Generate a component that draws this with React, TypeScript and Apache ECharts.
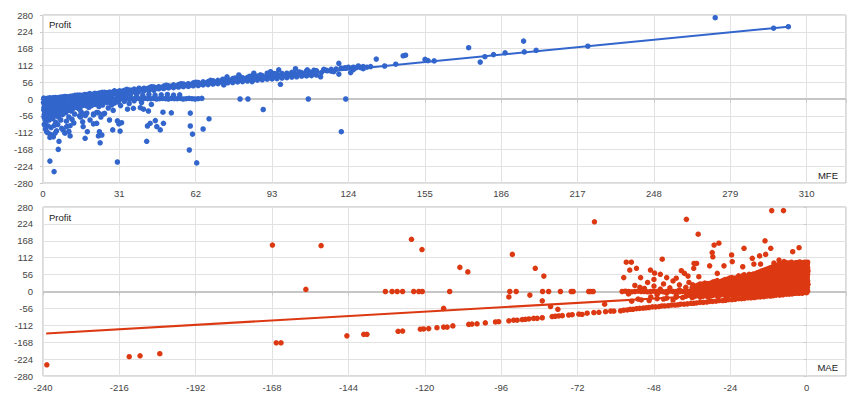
import React, { useEffect, useRef } from "react";
import * as echarts from "echarts";

// ---------- axis definitions ----------
const profitMin = -280;
const profitMax = 280;
const profitStep = 56;
const mfeMin = 0;
const mfeMax = 326;
const mfeStep = 31;
const maeMin = -240;
const maeMax = 12.35;
const maeStep = 24;

const mfeColor = "#3366cc";
const maeColor = "#dc3912";

// ---------- MFE vs Profit (top) ----------
const mfeBandA: number[][] = [
  [1, 1], [3, 2], [5, 5], [7, 6], [9, 8], [11, 9], [13, 12], [15, 13], [17, 15], [19, 16], [21, 19], [23, 20], [25, 22], [27, 23], [29, 26],
  [31, 27], [33, 29], [35, 30], [37, 33], [39, 34], [41, 36], [43, 37], [45, 40], [47, 41], [49, 43], [51, 44], [53, 47], [55, 48], [57, 50],
  [59, 51], [61, 54], [63, 55], [65, 57], [67, 58], [69, 61], [71, 62], [73, 64], [75, 65], [77, 68], [79, 69], [81, 71], [83, 72], [85, 75],
  [87, 76], [89, 78], [91, 79], [93, 82], [95, 83], [97, 85], [99, 86], [101, 89], [104, 90], [107, 94], [110, 96], [114, 99],
];
const mfeBandB: number[][] = [
  [2, 0], [4, 3], [6, 4], [8, 7], [10, 7], [12, 10], [14, 11], [16, 12], [18, 15], [20, 15], [22, 18], [24, 18], [26, 21], [28, 22], [30, 23],
  [32, 26], [34, 26], [36, 29], [38, 30], [40, 31], [42, 34], [44, 34], [46, 37], [48, 38], [50, 39], [52, 42], [54, 42], [56, 45], [58, 46],
  [60, 47], [62, 50], [64, 50], [66, 53], [68, 54], [70, 55], [72, 58], [74, 58], [76, 61], [78, 62], [80, 63], [82, 66], [84, 66], [86, 69],
  [88, 70], [90, 71], [92, 74], [94, 74], [96, 77], [98, 78], [100, 79], [103, 82], [106, 83], [109, 87], [113, 88], [117, 93],
];
const mfeBandC: number[][] = [
  [47, 34], [49, 35], [51, 37], [53, 38], [55, 40], [57, 41], [59, 42], [61, 44], [63, 45], [65, 47], [67, 48], [69, 50], [71, 51],
  [73, 53], [75, 54], [77, 55], [79, 57], [81, 58], [83, 60], [85, 61], [87, 63], [89, 64], [91, 66], [93, 67], [95, 68], [97, 70],
  [99, 71], [101, 73], [103, 74], [105, 76], [107, 77], [109, 78], [111, 80],
  [102, 86], [105, 88], [108, 90], [111, 94], [115, 96], [119, 100], [123, 103], [126, 106], [130, 108],
];
const mfeBandTop: number[][] = [
  [4, 4], [9, 8], [14, 13], [19, 18], [24, 22], [29, 27], [34, 32], [39, 36], [44, 41], [50, 46], [56, 51], [62, 56], [68, 62], [73, 66],
  [78, 70], [84, 76], [88, 79], [94, 85],
];
const mfeBandLow: number[][] = [
  [3, 2], [5, 3], [7, 5], [9, 6], [11, 7], [13, 8], [15, 10], [17, 11], [19, 12], [21, 14], [23, 15], [25, 16], [27, 18], [29, 19], [31, 20],
  [33, 21], [35, 23], [37, 24], [39, 25], [41, 27], [43, 28], [45, 29],
  [2, 1], [4, 2], [6, 3], [8, 4], [10, 5], [12, 6], [14, 7], [16, 8], [18, 9], [20, 10], [22, 11], [24, 12], [26, 13], [28, 14], [30, 15],
  [32, 16], [34, 17],
];
const mfeMidRow: number[][] = [
  [18, 13], [20.5, 15], [23, 14], [25.5, 13], [28, 15], [30.5, 14], [33, 13], [35.5, 15], [38, 14], [40.5, 12], [43, 15], [45.5, 13],
  [48, 14], [50.5, 15], [53, 13], [55.5, 14],
];
const mfeZeroRow: number[][] = [
  [0.5, 1], [1.7, 2], [2.9, 0], [4.1, 1], [5.3, 2], [6.5, 1], [7.7, 0], [8.9, 2], [10.1, 1], [11.3, 1], [12.5, 2], [13.7, 0], [14.9, 1],
  [16.1, 2], [17.3, 1], [18.5, 0], [19.7, 2], [20.9, 1], [22.1, 1], [23.3, 2], [24.5, 0], [25.7, 1], [26.9, 2], [28.1, 1], [29.3, 0],
  [30.5, 2], [31.7, 1], [32.9, 1], [34.1, 2], [35.3, 0], [36.5, 1], [37.7, 2], [38.9, 1], [40.1, 0], [41.3, 2], [42.5, 1], [43.7, 1],
  [44.9, 2], [46.1, 0], [47.3, 1], [48.5, 2], [49.7, 1], [50.9, 0], [52.1, 2], [53.3, 1], [54.5, 1], [55.7, 2], [56.9, 0], [58.1, 1],
  [59.3, 2], [60.5, 1], [61.7, 0], [63, 1], [64.5, 2], [80, 0], [83.2, 0], [107.7, 0], [122.9, 0],
];
const mfeBlob: number[][] = [
  [0.3, 3], [0.5, -5], [0.2, -12], [0.6, -20], [0.4, -28], [0.3, -36], [0.7, -44], [0.5, -52], [0.4, -60], [0.8, -68],
  [1.5, 0], [1.7, -8], [1.4, -16], [1.8, -24], [1.6, -32], [1.3, -40], [1.9, -48], [1.5, -57], [1.7, -65], [1.2, -75],
  [2.6, 4], [2.8, -4], [2.5, -12], [2.9, -20], [2.7, -28], [2.4, -37], [3.0, -45], [2.6, -53], [2.8, -62], [2.5, -70],
  [3.8, 0], [4.0, -8], [3.7, -17], [4.1, -25], [3.9, -33], [3.6, -41], [4.2, -50], [3.8, -58], [4.0, -66],
  [5.0, 2], [5.2, -6], [4.9, -14], [5.3, -22], [5.1, -30], [4.8, -38], [5.4, -47], [5.0, -56], [5.2, -78],
  [6.3, -3], [6.5, -11], [6.2, -19], [6.6, -27], [6.4, -35], [6.7, -44], [6.3, -60],
  [7.6, 0], [7.8, -8], [7.5, -16], [7.9, -24], [7.7, -32], [7.4, -41], [7.9, -52],
  [8.8, -4], [9.0, -12], [8.7, -20], [9.1, -28], [8.9, -37], [9.2, -46],
  [10.1, 0], [10.3, -8], [10.0, -16], [10.4, -24], [10.2, -33], [10.5, -60],
  [11.4, -4], [11.6, -12], [11.3, -20], [11.7, -29], [11.5, -40],
  [12.7, 0], [12.9, -8], [12.6, -17], [13.0, -25], [12.8, -50],
  [14.0, -3], [14.2, -11], [13.9, -20], [14.3, -30],
  [15.3, 1], [15.5, -7], [15.2, -15], [15.6, -24], [15.4, -42],
  [16.8, -2], [17.0, -10], [16.7, -19], [17.2, -55], [18.3, 0], [18.5, -8], [18.2, -16], [18.6, -28],
  [19.8, -3], [20.0, -12], [19.7, -22], [21.3, 0], [21.5, -8], [21.2, -18], [21.8, -45],
  [22.8, -4], [23.0, -13], [22.7, -25], [24.3, 0], [24.5, -9], [24.2, -20], [25.8, -3], [26.0, -12], [26.5, -30],
  [27.3, 0], [27.5, -8], [27.8, -20], [28.8, -4], [29.0, -14], [30.3, -2], [30.6, -10], [31.5, -22],
  [33, -8], [35, -15], [37, -6], [40, -12], [44, -18], [28.5, -38], [25, -48], [23.5, -60], [20.5, -50], [14.8, -56],
  [11.8, -68], [9.5, -74], [12.5, -80], [6.0, -85], [3.3, -95], [1.0, -100], [2.0, -90], [7.2, -70], [4.6, -88], [0.5, -85],
  [1.8, -112], [3.0, -118], [5.5, -106], [8.2, -104], [10.5, -108], [20.5, -53], [22.5, -46], [24.5, -50], [15.2, -60],
  [16.5, -50], [17.8, -47],
];
const mfeBlobFill: number[][] = [
  [0.9, -1], [1.0, -9], [0.8, -17], [1.1, -25], [0.9, -33], [1.0, -41], [0.8, -49], [1.1, -57], [0.9, -64],
  [2.1, -4], [2.2, -12], [2.0, -20], [2.3, -28], [2.1, -36], [2.2, -44], [2.0, -52], [2.3, -60], [2.1, -67],
  [3.2, -1], [3.3, -9], [3.1, -17], [3.4, -25], [3.2, -33], [3.3, -41], [3.1, -49], [3.4, -57], [3.2, -63],
  [4.4, -4], [4.5, -12], [4.3, -20], [4.6, -28], [4.4, -36], [4.5, -44], [4.3, -52],
  [5.7, -2], [5.8, -10], [5.6, -18], [5.9, -26], [5.7, -34], [5.8, -42], [5.6, -50],
  [7.0, -7], [7.1, -15], [6.9, -23], [7.2, -31], [7.0, -39], [7.1, -47],
  [8.2, -3], [8.3, -11], [8.1, -19], [8.4, -27], [8.2, -35], [8.3, -42],
  [9.6, -8], [9.7, -16], [9.5, -24], [9.8, -32], [9.6, -40],
  [10.8, -4], [10.9, -12], [10.7, -20], [11.0, -28], [10.8, -36],
  [12.0, -8], [12.1, -16], [11.9, -24], [12.2, -32],
  [13.3, -4], [13.4, -12], [13.2, -20], [13.5, -28],
  [14.6, -8], [14.7, -16], [14.5, -24], [14.8, -34],
  [16.0, -5], [16.1, -13], [15.9, -21], [17.5, -5], [17.6, -13], [17.4, -22], [19.0, -7], [19.1, -16],
  [20.6, -4], [20.7, -13], [22.0, -8], [22.1, -18], [23.6, -5], [23.7, -14], [25.1, -8], [26.6, -5], [28.0, -10],
];
const mfeOutliers: number[][] = [
  [2.8, -207], [4.5, -242], [6.2, -168], [6.5, -141], [2.8, -128], [4.2, -126], [1.5, -109], [4.9, -114], [7.6, -98], [9.6, -92],
  [11, -89], [8.9, -114], [11, -123], [16.3, -92], [16.1, -76], [17.1, -131], [18, -109], [19.1, -70], [20.5, -83], [21.8, -81],
  [22.5, -123], [23.2, -146], [23.9, -120], [22.9, -109], [27, -70], [28.3, -103], [30.2, -73], [30.8, -83], [31.3, -107], [30.2, -210],
  [31.9, -79], [34.3, -34], [36.7, -31], [39.5, -29], [40.8, -34], [42.8, -40], [42.1, -141], [42.4, -90], [43.5, -81], [45.6, -72],
  [46.2, -92], [47.6, -103], [48.9, -81], [48.7, -44], [52.1, -46], [59.8, -47], [59.8, -90], [60.7, -117], [59.4, -170], [62.4, -213],
  [65, -100], [67.4, -66], [89.4, -35], [121.1, -109],
  [120.1, 119], [121, 103], [122.5, 104], [124, 106], [125.5, 103], [127, 104], [129, 105], [131.5, 106], [124.9, 88], [120.1, 83],
  [115.4, 94], [112.7, 74], [110, 86], [107.3, 97], [106.6, 83], [102.5, 101], [101.8, 80], [99.1, 83], [95.7, 97], [96.4, 49],
  [92.4, 91], [91, 86], [88.3, 80], [85.6, 86], [84.9, 58], [80.1, 74], [79.5, 80], [74.7, 74], [73.4, 47], [69.3, 58],
  [104, 88], [108, 91], [111, 93], [114, 96], [117, 99], [118, 91], [126, 98], [128, 110], [130, 101], [133, 108],
  [135.3, 133], [138.7, 110], [143.2, 116], [146.2, 144], [147.2, 146], [155.1, 132], [156.3, 128], [158.8, 127], [172.8, 171],
  [177.5, 123], [179.4, 141], [182.9, 148], [187.6, 154], [195.1, 193], [195.4, 157], [200.2, 162], [221.2, 176], [272.9, 271],
  [296.6, 236], [302.6, 241],
];
const mfeTrend: number[][] = [[0, -1], [302.6, 241]];

// ---------- MAE vs Profit (bottom) ----------
const maeLowerEdge: number[][] = [
  [-144.5, -147], [-139.2, -142], [-138.2, -142], [-128.4, -132], [-127, -131], [-121.4, -125], [-120.4, -124], [-118.8, -123],
  [-116.2, -120], [-114.1, -118], [-113, -118], [-111.2, -114], [-106.2, -109], [-105.2, -108], [-103.6, -107], [-101, -104],
  [-97.8, -101], [-96.8, -100], [-93.6, -97], [-92.1, -95], [-91, -95], [-89.4, -93], [-88.4, -92], [-87.3, -91], [-85.8, -89],
  [-84.7, -89], [-83.1, -87], [-80, -83], [-79, -82], [-77.9, -81], [-76.8, -80], [-74.8, -78], [-73.7, -77], [-71.6, -75],
  [-70.6, -76], [-69, -72], [-66.9, -70], [-65.3, -69], [-63.2, -67], [-61.6, -65], [-60.6, -65],
  [-58.5, -64], [-57.5, -62], [-56.4, -61], [-55.5, -59], [-54.6, -59], [-53.5, -57], [-52.5, -56], [-51.4, -55], [-50.5, -54],
  [-49.6, -53], [-48.5, -51], [-47.5, -51], [-46.4, -50], [-45.5, -48], [-44.6, -48], [-43.5, -47], [-42.5, -45], [-41.4, -45],
  [-40.5, -44], [-39.6, -42], [-38.5, -42], [-37.5, -41], [-36.4, -39], [-35.5, -39], [-34.6, -38], [-33.5, -36], [-32.5, -36],
  [-31.4, -35], [-30.5, -33], [-29.6, -33], [-28.5, -32], [-27.5, -30], [-26.4, -30], [-25.5, -29], [-24.6, -27], [-23.5, -27],
  [-22.5, -26], [-21.4, -24], [-20.5, -24], [-19.6, -23], [-18.5, -21], [-17.5, -21], [-16.4, -20], [-15.5, -18], [-14.6, -18],
  [-13.5, -17], [-12.5, -15], [-11.4, -15], [-10.5, -14], [-9.6, -12], [-8.5, -12], [-7.5, -11], [-6.4, -9], [-5.5, -9],
  [-4.6, -8], [-3.5, -6], [-2.5, -6], [-1.4, -5], [-0.5, -3],
  [-55, -32], [-52, -28], [-49.5, -30], [-47, -24], [-44, -22], [-41, -19], [-38, -16],
];
const maeZeroRow: number[][] = [
  [-132.4, 0], [-130.3, 0], [-128.7, 0], [-127, 0], [-123.5, 0], [-121.9, 0], [-120.8, 0], [-112.2, 0], [-93.3, 0], [-91.3, 0],
  [-83, 0], [-81.1, 0], [-77.4, 0], [-74, 0], [-73.4, 0], [-68.5, 0], [-67.9, 0], [-67.1, 0],
  [-58, 0], [-57, 1], [-56, 0], [-55, -1], [-54, 0], [-53, 1], [-52, 0], [-51, 0], [-50, -1], [-49, 0], [-48, 1], [-47, 0],
  [-46, 0], [-45, -1], [-44, 0], [-43, 1], [-42, 0], [-41, 0], [-40, -1], [-39, 0], [-38, 1], [-37, 0],
];
const maeCluster: number[][] = [
  [-36, -20], [-36, -9], [-36.3, 2], [-36, 13], [-35.8, 22],
  [-35, -15], [-34.8, -4], [-35, 7], [-35.2, 18],
  [-33.5, -19], [-33.7, -8], [-33.5, 3], [-33.3, 14], [-33.5, 25],
  [-32, -14], [-32.2, -3], [-32, 8], [-31.8, 19], [-32, 28],
  [-31, -18], [-30.8, -7], [-31, 4], [-31.2, 15], [-31, 26],
  [-29.5, -13], [-29.7, -2], [-29.5, 9], [-29.3, 20], [-29.5, 31],
  [-28, -16], [-28.2, -5], [-28, 6], [-27.8, 17], [-28, 28], [-28.1, 36],
  [-27, -11], [-26.8, 0], [-27, 11], [-27.2, 22], [-27, 33],
  [-25.5, -15], [-25.7, -4], [-25.5, 7], [-25.3, 18], [-25.5, 29], [-25.6, 40],
  [-24, -10], [-24.2, 1], [-24, 12], [-23.8, 23], [-24, 34], [-24.1, 45],
  [-23, -13], [-22.8, -2], [-23, 9], [-23.2, 20], [-23, 31], [-22.9, 42],
  [-21.5, -9], [-21.7, 2], [-21.5, 13], [-21.3, 24], [-21.5, 35], [-21.6, 46], [-21.4, 52],
  [-20, -12], [-20.2, -1], [-20, 10], [-19.8, 21], [-20, 32], [-20.1, 43], [-19.9, 54],
  [-19, -8], [-18.8, 3], [-19, 14], [-19.2, 25], [-19, 36], [-18.9, 47],
  [-17.5, -11], [-17.7, 0], [-17.5, 11], [-17.3, 22], [-17.5, 33], [-17.6, 44], [-17.4, 55],
  [-16, -7], [-16.2, 4], [-16, 15], [-15.8, 26], [-16, 37], [-16.1, 48], [-15.9, 59],
  [-15, -10], [-14.8, 1], [-15, 12], [-15.2, 23], [-15, 34], [-14.9, 45], [-15.1, 56], [-15, 64],
  [-13.5, -6], [-13.7, 5], [-13.5, 16], [-13.3, 27], [-13.5, 38], [-13.6, 49], [-13.4, 60], [-13.5, 70],
  [-12, -9], [-12.2, 2], [-12, 13], [-11.8, 24], [-12, 35], [-12.1, 46], [-11.9, 57], [-12, 68], [-12.1, 76],
  [-11, -5], [-10.8, 6], [-11, 17], [-11.2, 28], [-11, 39], [-10.9, 50], [-11.1, 61], [-11, 72], [-10.9, 80],
  [-9.5, -8], [-9.7, 3], [-9.5, 14], [-9.3, 25], [-9.5, 36], [-9.6, 47], [-9.4, 58], [-9.5, 69], [-9.6, 80], [-9.4, 86],
  [-8, -4], [-8.2, 7], [-8, 18], [-7.8, 29], [-8, 40], [-8.1, 51], [-7.9, 62], [-8, 73], [-8.1, 84], [-8, 90],
  [-7, -7], [-6.8, 4], [-7, 15], [-7.2, 26], [-7, 37], [-6.9, 48], [-7.1, 59], [-7, 70], [-6.9, 81], [-7, 92],
  [-5.5, -3], [-5.7, 8], [-5.5, 19], [-5.3, 30], [-5.5, 41], [-5.6, 52], [-5.4, 63], [-5.5, 74], [-5.6, 85], [-5.5, 94],
  [-4, -6], [-4.2, 5], [-4, 16], [-3.8, 27], [-4, 38], [-4.1, 49], [-3.9, 60], [-4, 71], [-4.1, 82], [-4, 93],
  [-3, -2], [-2.8, 9], [-3, 20], [-3.2, 31], [-3, 42], [-2.9, 53], [-3.1, 64], [-3, 75], [-2.9, 86], [-3, 96],
  [-1.5, -5], [-1.7, 6], [-1.5, 17], [-1.3, 28], [-1.5, 39], [-1.6, 50], [-1.4, 61], [-1.5, 72], [-1.6, 83], [-1.5, 94],
  [-0.5, -1], [-0.3, 10], [-0.5, 21], [-0.7, 32], [-0.5, 43], [-0.4, 54], [-0.6, 65], [-0.5, 76], [-0.4, 87], [-0.5, 97],
  [0, -4], [0, 7], [0, 18], [0, 29], [0, 40], [0, 51], [0, 62], [0, 73], [0, 84], [0, 95],
  [-50, 30], [-48, 18], [-47, -10], [-46, 8], [-45, 25], [-44, -5], [-43, 12], [-42, 35], [-41, -14], [-40, 5], [-40, 22],
  [-39, -20], [-38, 14], [-38, -2], [-37, 30], [-37, -12], [-49, -18], [-51, 10], [-53, -25], [-54, 20], [-56, -8],
  [-45, -25], [-42, -28], [-48, 40], [-44, 46], [-41, 44],
];
const maeClusterFill: number[][] = [
  [-35.5, -17], [-35.4, -6], [-35.6, 5], [-35.5, 16],
  [-34.2, -12], [-34.3, -1], [-34.1, 10], [-34.2, 21],
  [-32.7, -16], [-32.8, -5], [-32.6, 6], [-32.7, 17], [-32.8, 24],
  [-31.5, -12], [-31.4, -1], [-31.6, 10], [-31.5, 21],
  [-30.2, -15], [-30.3, -4], [-30.1, 7], [-30.2, 18], [-30.3, 27],
  [-28.8, -10], [-28.9, 1], [-28.7, 12], [-28.8, 23], [-28.9, 33],
  [-27.5, -13], [-27.4, -2], [-27.6, 9], [-27.5, 20], [-27.4, 30],
  [-26.3, -8], [-26.4, 3], [-26.2, 14], [-26.3, 25], [-26.4, 36],
  [-24.8, -12], [-24.9, -1], [-24.7, 10], [-24.8, 21], [-24.9, 32], [-24.8, 41],
  [-23.5, -7], [-23.4, 4], [-23.6, 15], [-23.5, 26], [-23.4, 37], [-23.5, 46],
  [-22.3, -10], [-22.4, 1], [-22.2, 12], [-22.3, 23], [-22.4, 34], [-22.3, 45],
  [-20.8, -6], [-20.9, 5], [-20.7, 16], [-20.8, 27], [-20.9, 38], [-20.8, 49],
  [-19.5, -9], [-19.4, 2], [-19.6, 13], [-19.5, 24], [-19.4, 35], [-19.5, 46], [-19.6, 55],
  [-18.2, -5], [-18.3, 6], [-18.1, 17], [-18.2, 28], [-18.3, 39], [-18.2, 50], [-18.1, 57],
  [-16.8, -8], [-16.9, 3], [-16.7, 14], [-16.8, 25], [-16.9, 36], [-16.8, 47], [-16.7, 58],
  [-15.5, -4], [-15.4, 7], [-15.6, 18], [-15.5, 29], [-15.4, 40], [-15.5, 51], [-15.6, 62],
  [-14.2, -7], [-14.3, 4], [-14.1, 15], [-14.2, 26], [-14.3, 37], [-14.2, 48], [-14.1, 59], [-14.2, 68],
  [-12.8, -3], [-12.9, 8], [-12.7, 19], [-12.8, 30], [-12.9, 41], [-12.8, 52], [-12.7, 63], [-12.8, 73],
  [-11.5, -6], [-11.4, 5], [-11.6, 16], [-11.5, 27], [-11.4, 38], [-11.5, 49], [-11.6, 60], [-11.5, 71], [-11.4, 79],
  [-10.2, -2], [-10.3, 9], [-10.1, 20], [-10.2, 31], [-10.3, 42], [-10.2, 53], [-10.1, 64], [-10.2, 75], [-10.3, 84],
  [-8.8, -5], [-8.9, 6], [-8.7, 17], [-8.8, 28], [-8.9, 39], [-8.8, 50], [-8.7, 61], [-8.8, 72], [-8.9, 83], [-8.8, 90],
  [-7.5, -1], [-7.4, 10], [-7.6, 21], [-7.5, 32], [-7.4, 43], [-7.5, 54], [-7.6, 65], [-7.5, 76], [-7.4, 87], [-7.5, 94],
  [-6.2, -4], [-6.3, 7], [-6.1, 18], [-6.2, 29], [-6.3, 40], [-6.2, 51], [-6.1, 62], [-6.2, 73], [-6.3, 84], [-6.2, 95],
  [-4.8, 0], [-4.9, 11], [-4.7, 22], [-4.8, 33], [-4.9, 44], [-4.8, 55], [-4.7, 66], [-4.8, 77], [-4.9, 88], [-4.8, 97],
  [-3.5, -3], [-3.4, 8], [-3.6, 19], [-3.5, 30], [-3.4, 41], [-3.5, 52], [-3.6, 63], [-3.5, 74], [-3.4, 85], [-3.5, 95],
  [-2.2, 1], [-2.3, 12], [-2.1, 23], [-2.2, 34], [-2.3, 45], [-2.2, 56], [-2.1, 67], [-2.2, 78], [-2.3, 89], [-2.2, 98],
  [-1, -2], [-0.9, 9], [-1.1, 20], [-1, 31], [-0.9, 42], [-1, 53], [-1.1, 64], [-1, 75], [-0.9, 86], [-1, 96],
  [0.3, 2], [0.2, 13], [0.4, 24], [0.3, 35], [0.2, 46], [0.3, 57], [0.4, 68], [0.3, 79], [0.2, 90], [0.3, 97],
];
const maeOutliers: number[][] = [
  [-238.8, -243], [-212.9, -216], [-209.5, -213], [-203.3, -206], [-167.9, 154], [-166.7, -170], [-165.2, -170], [-157.4, 7],
  [-152.6, 152], [-124.2, 173], [-120.9, 139], [-114.1, -56], [-109, 80], [-106.5, 65], [-93.6, -18], [-92.5, 123], [-87, -12],
  [-85.3, 77], [-83.1, -31], [-82.6, 51], [-80.5, -50], [-78.2, -59], [-66.7, 231], [-63.5, -42], [-37.8, 239], [-34.1, 190],
  [-27.6, 160], [-19.7, 143], [-13.1, 168], [-11, 268], [-7.3, 268], [-11.3, 143], [-12.9, 123], [-4.4, 132], [-2.4, 145],
  [-45.4, 107], [-56.7, 97], [-55.1, 97], [-53.5, 77], [-55.6, 71], [-57.5, 46], [-52.2, 46], [-52.4, 14], [-49.1, 71],
  [-47.8, 61], [-46, 57], [-39.4, 69], [-38.4, 60], [-37.3, 51], [-34.6, 93], [-35.5, 77], [-33.9, 49], [-29.7, 129],
  [-29.5, 115], [-30.5, 85], [-28.1, 60], [-26, 85], [-23.6, 121], [-23.4, 99], [-20.1, 82], [-17.1, 110], [-16.6, 91],
  [-14.8, 118], [-14.5, 91], [-10.3, 94], [-8.7, 104], [-7.1, 99], [-29.1, 154], [-35.4, 93],
];
const maeTrend: number[][] = [[-239, -139], [0, 6]];

const mfePoints = [
  ...mfeBandA, ...mfeBandB, ...mfeBandC, ...mfeBandTop, ...mfeBandLow, ...mfeMidRow, ...mfeZeroRow,
  ...mfeBlob, ...mfeBlobFill, ...mfeOutliers,
];
const maePoints = [...maeLowerEdge, ...maeZeroRow, ...maeCluster, ...maeClusterFill, ...maeOutliers];

const FONT = "'Liberation Sans', Arial, sans-serif";
const labelStyle = { color: "#444", fontSize: 9.5, fontFamily: FONT };
const gridColor = "#e2e2e2";

function xAxisFor(gridIndex: number, min: number, max: number, step: number, margin: number) {
  return {
    type: "value",
    gridIndex,
    min,
    max,
    interval: step,
    axisLine: { show: false },
    axisTick: { show: true, length: 4, lineStyle: { color: "#cccccc" } },
    axisLabel: {
      ...labelStyle,
      margin,
      formatter: (v: number) => (Math.abs((v - min) / step - Math.round((v - min) / step)) < 1e-6 ? String(v) : ""),
    },
    splitLine: { show: true, lineStyle: { color: gridColor, width: 1 } },
  };
}

function yAxisFor(gridIndex: number) {
  return {
    type: "value",
    gridIndex,
    min: profitMin,
    max: profitMax,
    interval: profitStep,
    axisLine: { show: false },
    axisTick: { show: true, length: 3, lineStyle: { color: "#cccccc" } },
    axisLabel: { ...labelStyle, margin: 10 },
    splitLine: { show: true, lineStyle: { color: gridColor, width: 1 } },
  };
}

function baseline(idx: number) {
  return {
    type: "line",
    xAxisIndex: idx,
    yAxisIndex: idx,
    data: [],
    z: 1,
    silent: true,
    markLine: {
      silent: true,
      z: 1,
      symbol: ["none", "none"],
      label: { show: false },
      lineStyle: { color: "#c6c6c6", width: 2, type: "solid" },
      data: [{ yAxis: 0 }],
    },
  };
}

const option = {
  animation: false,
  backgroundColor: "#ffffff",
  grid: [
    { left: 43, right: 14, top: 15, height: 168, show: true, borderColor: "#b4b4b4", borderWidth: 1 },
    { left: 43, right: 14, top: 207, height: 169, show: true, borderColor: "#b4b4b4", borderWidth: 1 },
  ],
  xAxis: [xAxisFor(0, mfeMin, mfeMax, mfeStep, 5), xAxisFor(1, maeMin, maeMax, maeStep, 6.5)],
  yAxis: [yAxisFor(0), yAxisFor(1)],
  series: [
    baseline(0),
    baseline(1),
    {
      type: "scatter",
      xAxisIndex: 0,
      yAxisIndex: 0,
      data: mfePoints,
      symbolSize: 5.5,
      itemStyle: { color: mfeColor, opacity: 1 },
      z: 2,
    },
    {
      type: "line",
      xAxisIndex: 0,
      yAxisIndex: 0,
      data: mfeTrend,
      showSymbol: false,
      lineStyle: { color: mfeColor, width: 2 },
      z: 3,
    },
    {
      type: "scatter",
      xAxisIndex: 1,
      yAxisIndex: 1,
      data: maePoints,
      symbolSize: 5.5,
      itemStyle: { color: maeColor, opacity: 1 },
      z: 2,
    },
    {
      type: "line",
      xAxisIndex: 1,
      yAxisIndex: 1,
      data: maeTrend,
      showSymbol: false,
      lineStyle: { color: maeColor, width: 2 },
      z: 3,
    },
  ],
  graphic: [
    { type: "text", x: 49, y: 24, z: 10, style: { text: "Profit", fontSize: 9.5, fontFamily: FONT, fill: "#222", align: "left", verticalAlign: "middle" } },
    { type: "text", x: 49, y: 217, z: 10, style: { text: "Profit", fontSize: 9.5, fontFamily: FONT, fill: "#222", align: "left", verticalAlign: "middle" } },
    { type: "text", x: 838, y: 175, z: 10, style: { text: "MFE", fontSize: 9.5, fontFamily: FONT, fill: "#222", align: "right", verticalAlign: "middle" } },
    { type: "text", x: 838, y: 367, z: 10, style: { text: "MAE", fontSize: 9.5, fontFamily: FONT, fill: "#222", align: "right", verticalAlign: "middle" } },
  ],
};

export default function App() {
  const ref = useRef<HTMLDivElement>(null);
  useEffect(() => {
    if (!ref.current) return;
    const chart = echarts.init(ref.current, null, { renderer: "svg" });
    chart.setOption(option as any);
    return () => chart.dispose();
  }, []);
  return (
    <div
      ref={ref}
      style={{ position: "absolute", left: 0, top: 0, width: 860, height: 400, background: "#fff" }}
    />
  );
}
